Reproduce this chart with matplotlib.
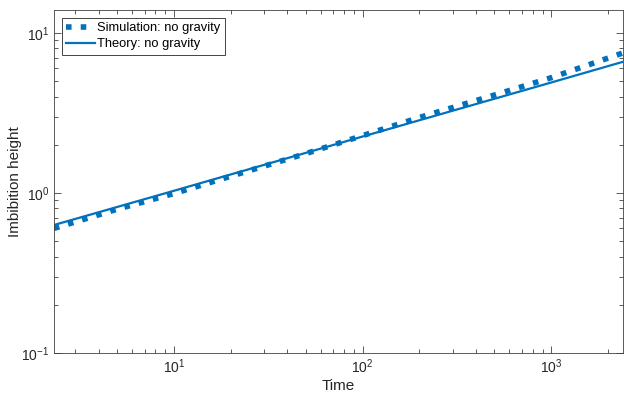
import matplotlib.pyplot as plt
from matplotlib.ticker import LogLocator, NullFormatter

plt.rcParams['font.family'] = ['Liberation Sans', 'DejaVu Sans']

# sampled values from the two runs (no gravity)
time_sim = [2.32, 5, 10, 20, 50, 100, 200, 500, 1000, 2400]
height_sim = [0.60, 0.79, 0.99, 1.27, 1.76, 2.28, 2.96, 4.09, 5.25, 7.50]
time_theory = [2.32, 10, 100, 1000, 2400]
height_theory = [0.63, 1.03, 2.25, 4.90, 6.60]

blue = '#0072BD'
axis_col = '#404040'

fig = plt.figure(figsize=(6.24, 4.01), dpi=100)
ax = fig.add_axes([0.0865, 0.12, 0.912, 0.855])

ax.plot(time_sim, height_sim, ':', color=blue, lw=4, label='Simulation: no gravity')
ax.plot(time_theory, height_theory, '-', color=blue, lw=1.6, label='Theory: no gravity')

ax.set_xscale('log')
ax.set_yscale('log')
ax.set_xlim(2.32, 2400)
ax.set_ylim(0.1, 13.9)

ax.xaxis.set_minor_locator(LogLocator(base=10, subs=range(2, 10), numticks=20))
ax.yaxis.set_minor_locator(LogLocator(base=10, subs=range(2, 10), numticks=20))
ax.xaxis.set_minor_formatter(NullFormatter())
ax.yaxis.set_minor_formatter(NullFormatter())

ax.tick_params(which='both', direction='in', top=True, right=True,
               colors=axis_col, labelcolor='#262626', labelsize=10)
ax.tick_params(which='major', length=5, width=0.6)
ax.tick_params(which='minor', length=3, width=0.6)
for s in ax.spines.values():
    s.set_color(axis_col)
    s.set_linewidth(0.6)

ax.set_xlabel('Time', fontsize=11, color='#262626', labelpad=2)
ax.set_ylabel('Imbibition height', fontsize=11, color='#262626', labelpad=-1)

leg = ax.legend(loc='upper left', fontsize=9.3, fancybox=False, framealpha=1,
                handlelength=2.2, handletextpad=0.2, borderpad=0.35,
                labelspacing=0.3, borderaxespad=0.6)
leg.get_frame().set_edgecolor('#262626')
leg.get_frame().set_linewidth(0.6)

fig.savefig('out.png', dpi=100)
